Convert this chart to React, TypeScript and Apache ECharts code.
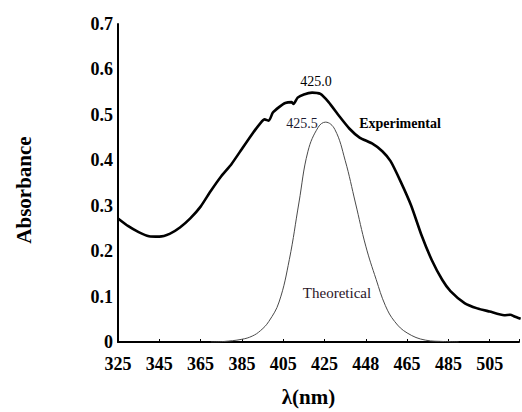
import React, { useEffect, useRef } from "react";
import * as echarts from "echarts";

// Tick labels of the wavelength axis (evenly spaced ticks)
const xTickLabels = ["325", "345", "365", "385", "405", "425", "448", "465", "485", "505"];
const yTicks = [0, 0.1, 0.2, 0.3, 0.4, 0.5, 0.6, 0.7];

// Experimental spectrum (wavelength nm, absorbance)
const expWavelength = [325, 330, 335, 340, 345, 350, 355, 360, 365, 370, 375, 380, 385, 390, 394, 396, 398, 400, 403, 406, 409, 410, 412, 415, 419, 423, 427, 432, 437, 442, 448, 453, 457, 462, 467, 472, 477, 482, 486, 493, 499, 505, 512, 515, 517, 520];
const expAbsorbance = [0.272, 0.255, 0.242, 0.233, 0.232, 0.238, 0.252, 0.272, 0.298, 0.333, 0.365, 0.392, 0.425, 0.458, 0.482, 0.49, 0.487, 0.505, 0.517, 0.526, 0.528, 0.524, 0.538, 0.545, 0.549, 0.546, 0.528, 0.498, 0.47, 0.45, 0.437, 0.42, 0.398, 0.352, 0.3, 0.235, 0.18, 0.137, 0.112, 0.085, 0.074, 0.067, 0.059, 0.06, 0.056, 0.051];

// Theoretical spectrum
const theoWavelength = [370, 376, 385, 390, 394, 398, 403, 408, 412.6, 417, 422, 425.5, 430, 435, 440, 445, 450, 454.5, 459, 465, 474, 483, 490];
const theoAbsorbance = [0, 0.001, 0.006, 0.013, 0.025, 0.045, 0.088, 0.182, 0.306, 0.42, 0.473, 0.484, 0.468, 0.4, 0.306, 0.211, 0.138, 0.08, 0.045, 0.02, 0.004, 0.001, 0];

const X_START = 325;
const X_STEP = 20;
const toUnit = (w: number) => (w - X_START) / X_STEP;

const FONT = "Liberation Serif, Times New Roman, serif";

const ann = (text: string, x: number, y: number, size: number, bold: boolean, fill: string) => ({
  type: "text",
  x,
  y,
  style: {
    text,
    fontFamily: FONT,
    fontSize: size,
    fontWeight: bold ? "bold" : "normal",
    fill,
    textAlign: "center",
    textVerticalAlign: "middle",
  },
});

export default function App() {
  const ref = useRef<HTMLDivElement>(null);
  useEffect(() => {
    if (!ref.current) return;
    const chart = echarts.init(ref.current, undefined, { renderer: "svg" });
    const expData = expWavelength.map((w, i) => [toUnit(w), expAbsorbance[i]]);
    const theoData = theoWavelength.map((w, i) => [toUnit(w), theoAbsorbance[i]]);
    chart.setOption({
      animation: false,
      backgroundColor: "#ffffff",
      grid: { left: 118, right: 0, top: 24, bottom: 66 },
      xAxis: {
        type: "value",
        min: 0,
        max: 9.71,
        interval: 1,
        name: "λ(nm)",
        nameLocation: "middle",
        nameGap: 44,
        nameTextStyle: { fontFamily: FONT, fontWeight: "bold", fontSize: 21, color: "#000", padding: [0, 20, 0, 0] },
        axisLine: { lineStyle: { color: "#000", width: 2 } },
        axisTick: { show: true, inside: true, length: 3, lineStyle: { color: "#000", width: 1 } },
        splitLine: { show: false },
        axisLabel: {
          fontFamily: FONT,
          fontWeight: "bold",
          fontSize: 18,
          color: "#000",
          margin: 13,
          formatter: (v: number) => {
            const i = Math.round(v);
            if (Math.abs(v - i) > 1e-6) return "";
            return xTickLabels[i] ?? "";
          },
        },
      },
      yAxis: {
        type: "value",
        min: 0,
        max: 0.7,
        interval: 0.1,
        name: "Absorbance",
        nameLocation: "middle",
        nameGap: 84,
        nameTextStyle: { fontFamily: FONT, fontWeight: "bold", fontSize: 21, color: "#000", padding: [0, 14, 0, 0] },
        axisLine: { show: true, lineStyle: { color: "#000", width: 2 } },
        axisTick: { show: false },
        splitLine: { show: false },
        axisLabel: {
          fontFamily: FONT,
          fontWeight: "bold",
          fontSize: 18,
          color: "#000",
          margin: 5,
          formatter: (v: number) => {
            const t = yTicks.find((y) => Math.abs(y - v) < 1e-6);
            return t === undefined ? "" : t === 0 ? "0" : t.toFixed(1);
          },
        },
      },
      series: [
        {
          name: "Experimental",
          type: "line",
          data: expData,
          showSymbol: false,
          smooth: 0.2,
          lineStyle: { color: "#000", width: 2.6 },
          z: 3,
        },
        {
          name: "Theoretical",
          type: "line",
          data: theoData,
          showSymbol: false,
          smooth: 0.4,
          lineStyle: { color: "#4a4a4a", width: 1 },
          z: 2,
        },
      ],
      graphic: [
        ann("425.0", 316, 81, 14, false, "#000"),
        ann("425.5", 302, 123, 14, false, "#1a1a30"),
        ann("Experimental", 400, 123, 14, true, "#000"),
        ann("Theoretical", 337, 293, 15, false, "#2a1428"),
      ],
    });
    return () => chart.dispose();
  }, []);
  return <div ref={ref} style={{ position: "fixed", left: 0, top: 0, width: 522, height: 412 }} />;
}
